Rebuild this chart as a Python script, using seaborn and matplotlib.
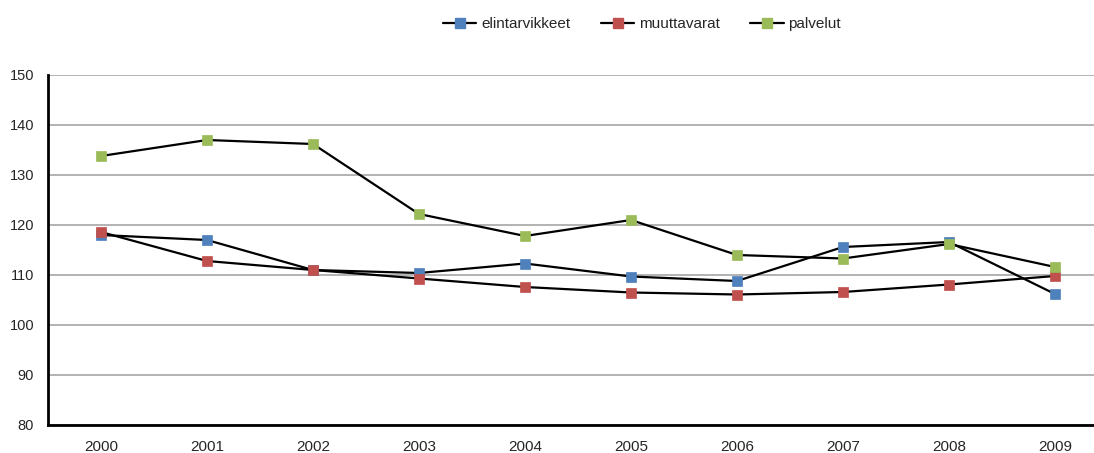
import matplotlib
matplotlib.use("Agg")
import matplotlib.pyplot as plt
import seaborn as sns
import pandas as pd
from matplotlib.lines import Line2D

years = ["2000", "2001", "2002", "2003", "2004", "2005", "2006", "2007", "2008", "2009"]
elintarvikkeet = [118.0, 117.0, 111.0, 110.4, 112.3, 109.7, 108.8, 115.6, 116.6, 106.2]
muuttavarat = [118.6, 112.8, 111.0, 109.3, 107.6, 106.5, 106.1, 106.6, 108.1, 109.8]
palvelut = [133.8, 137.0, 136.2, 122.2, 117.8, 121.0, 114.0, 113.3, 116.2, 111.6]

series = [
    ("elintarvikkeet", elintarvikkeet, "#4F81BD"),
    ("muuttavarat", muuttavarat, "#C0504D"),
    ("palvelut", palvelut, "#9BBB59"),
]

sns.set_style("white")
plt.rcParams["font.family"] = ["Liberation Sans", "DejaVu Sans"]

fig = plt.figure(figsize=(10.94, 4.53), dpi=100)
ax = fig.add_axes([48 / 1094, 28 / 453, 1060 / 1094, 350 / 453])

pos = list(range(len(years)))
handles = []
for name, vals, col in series:
    df = pd.DataFrame({"x": pos, "y": vals})
    sns.lineplot(data=df, x="x", y="y", ax=ax, color="black", linewidth=1.6,
                 marker="s", markersize=6.5, markerfacecolor=col,
                 markeredgecolor=col, markeredgewidth=0.5, zorder=3)
    handles.append(Line2D([0], [0], color="black", linewidth=1.6, marker="s",
                          markersize=6.5, markerfacecolor=col, markeredgecolor=col))

ax.set_xlim(-0.5, len(years) - 0.5)
ax.set_ylim(80, 150)
ax.set_yticks(range(80, 151, 10))
ax.yaxis.grid(True, color="#a6a6a6", linewidth=1.2)
ax.set_axisbelow(True)

# category labels centred, tick marks between categories
ax.set_xticks(pos)
ax.set_xticklabels(years, fontsize=11)
ax.set_xticks([p - 0.5 for p in pos] + [len(years) - 0.5], minor=True)
ax.tick_params(axis="x", which="major", length=0, pad=11)
ax.tick_params(axis="x", which="minor", length=5, width=1, direction="out", color="black")
ax.tick_params(axis="y", length=4, width=1, direction="out", color="black", labelsize=10.5, pad=6)
ax.set_xlabel("")
ax.set_ylabel("")

for s in ["top", "right"]:
    ax.spines[s].set_visible(False)
for s in ["left", "bottom"]:
    ax.spines[s].set_color("black")
    ax.spines[s].set_linewidth(2)

fig.legend(handles, [n for n, _, _ in series], loc="center", bbox_to_anchor=(642 / 1094, 1 - 24 / 453),
           ncol=3, frameon=False, fontsize=11, handlelength=2.2, columnspacing=2.0, handletextpad=0.3)

fig.savefig("out.png", dpi=100)
